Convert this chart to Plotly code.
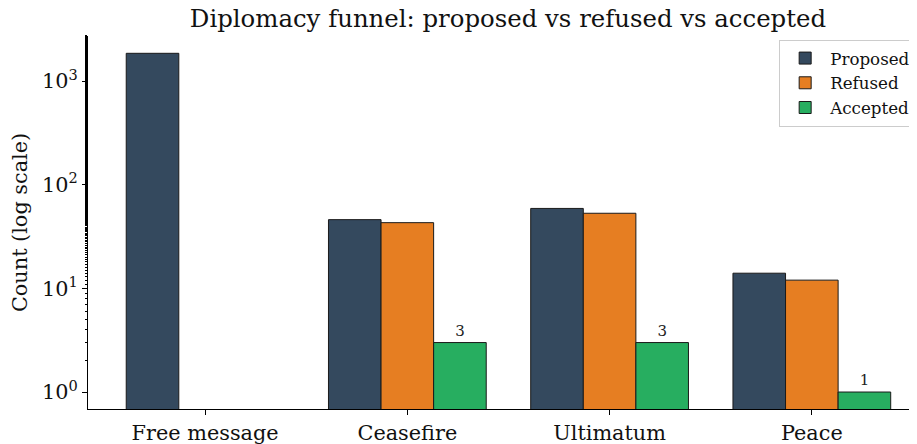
import plotly.graph_objects as go

categories = ["Free message", "Ceasefire", "Ultimatum", "Peace"]
proposed = [1850, 46, 59, 14]
refused = [0, 43, 53, 12]
accepted = [0, 3, 3, 1]

series = [
    ("Proposed", proposed, "#34495e"),
    ("Refused", refused, "#e67e22"),
    ("Accepted", accepted, "#27ae60"),
]

FONT = "DejaVu Serif"
# page has an 8px body margin; size the figure to fill the 917x444 window
W, H = 909, 436
fig = go.Figure()
for name, vals, color in series:
    y = [v if v > 0 else None for v in vals]
    text = None
    if name == "Accepted":
        text = [str(v) if v > 0 else "" for v in vals]
    fig.add_trace(go.Bar(
        x=categories, y=y, name=name,
        marker=dict(color=color, line=dict(color="#1a1a1a", width=1)),
        text=text, textposition="outside", cliponaxis=False,
        textfont=dict(family=FONT, size=15, color="#222"),
    ))

fig.update_layout(
    width=W, height=H,
    margin=dict(l=80, r=0, t=28, b=35),
    paper_bgcolor="white", plot_bgcolor="white",
    barmode="group", bargap=0.22, bargroupgap=0,
    font=dict(family=FONT, size=20.8, color="#111"),
    title=dict(text="Diplomacy funnel: proposed vs refused vs accepted",
               x=0.5066, xref="paper", xanchor="center",
               yref="container", y=1 - 10 / H, yanchor="middle",
               font=dict(family=FONT, size=24.4, color="#111")),
    legend=dict(x=0.999, xanchor="right", y=0.99, yanchor="top",
                bgcolor="white", bordercolor="#cccccc", borderwidth=1,
                itemwidth=40,
                font=dict(family=FONT, size=16.7)),
    showlegend=True,
)
fig.update_xaxes(
    range=[-0.579, 3.52], showline=True, linecolor="black", linewidth=1,
    ticks="outside", ticklen=5, tickcolor="black", showgrid=False,
    tickfont=dict(family=FONT, size=20.8),
)
fig.update_yaxes(
    type="log", range=[-0.1637, 3.434], showline=True, linecolor="black", linewidth=1,
    ticks="outside", ticklen=5, tickcolor="black", showgrid=False,
    tickvals=[1, 10, 100, 1000],
    ticktext=["10<sup>0</sup>", "10<sup>1</sup>", "10<sup>2</sup>", "10<sup>3</sup>"],
    minor=dict(ticks="outside", ticklen=2.5, tickcolor="black", showgrid=False),
    title=dict(text="Count (log scale)", font=dict(family=FONT, size=20.8), standoff=8),
    tickfont=dict(family=FONT, size=20.8), zeroline=False,
)
fig.write_html("out.html")
